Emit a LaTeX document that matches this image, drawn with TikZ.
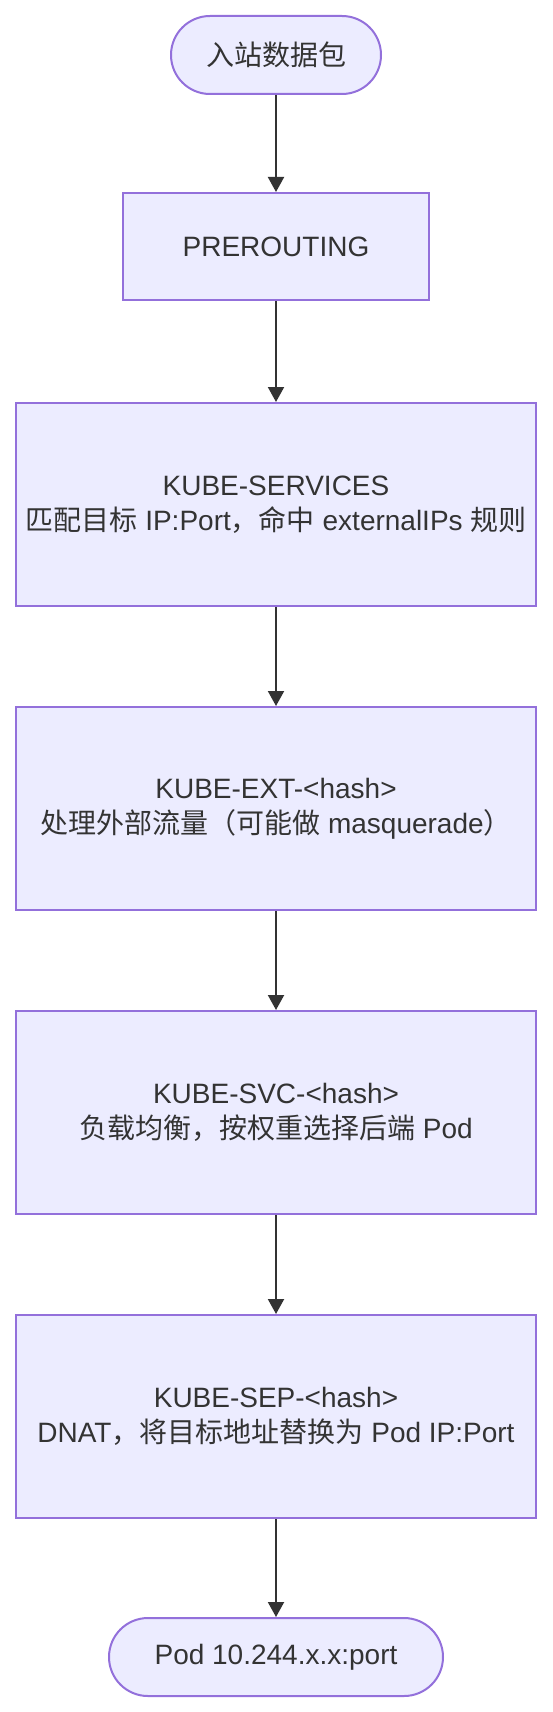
\documentclass[tikz,border=0pt]{standalone}
\usepackage{fontspec}
\setmainfont{Liberation Sans}
\newfontfamily\cjk{Noto Sans CJK SC}
\usetikzlibrary{arrows.meta}

\definecolor{boxfill}{HTML}{ECECFF}
\definecolor{boxline}{HTML}{9370DB}
\definecolor{txt}{HTML}{333333}

\tikzset{
  chainbox/.style={draw=boxline, fill=boxfill, line width=1pt, inner sep=0pt,
    align=center, text=txt, font=\fontsize{14pt}{17.5pt}\selectfont},
  terminal/.style={chainbox, rounded corners=19.5pt, minimum height=39pt},
  flow/.style={draw=txt, line width=1pt, -{Triangle[length=7.5pt,width=8pt]}}
}

\begin{document}
\begin{tikzpicture}[x=0.5pt, y=-0.5pt]

\useasboundingbox (0,0) rectangle (552,1712);

\node[terminal, minimum width=105pt] (inbound) at (276,55) {{\cjk 入站数据包}};
\node[chainbox, minimum width=153pt, minimum height=53.5pt] (prerouting) at (276,246.5) {PREROUTING};

\node[chainbox, minimum width=260pt, minimum height=101.5pt] (services) at (276,504.5)
  {KUBE-SERVICES\\{\cjk 匹配目标} IP:Port{\cjk ，命中} externalIPs {\cjk 规则}};
\node[chainbox, minimum width=260pt, minimum height=101.5pt] (ext) at (276,808.5)
  {KUBE-EXT-<hash>\\{\cjk 处理外部流量（可能做} masquerade{\cjk ）}};
\node[chainbox, minimum width=260pt, minimum height=101.5pt] (svc) at (276,1112.5)
  {KUBE-SVC-<hash>\\{\cjk 负载均衡，按权重选择后端} Pod};
\node[chainbox, minimum width=260pt, minimum height=101.5pt] (sep) at (276,1416.5)
  {KUBE-SEP-<hash>\\DNAT{\cjk ，将目标地址替换为} Pod IP:Port};

\node[terminal, minimum width=167pt] (pod) at (276,1657) {Pod 10.244.x.x:port};

% packet path through the chains
\draw[flow] (inbound) -- (prerouting);
\draw[flow] (prerouting) -- (services);
\draw[flow] (services) -- (ext);
\draw[flow] (ext) -- (svc);
\draw[flow] (svc) -- (sep);
\draw[flow] (sep) -- (pod);

\end{tikzpicture}
\end{document}
